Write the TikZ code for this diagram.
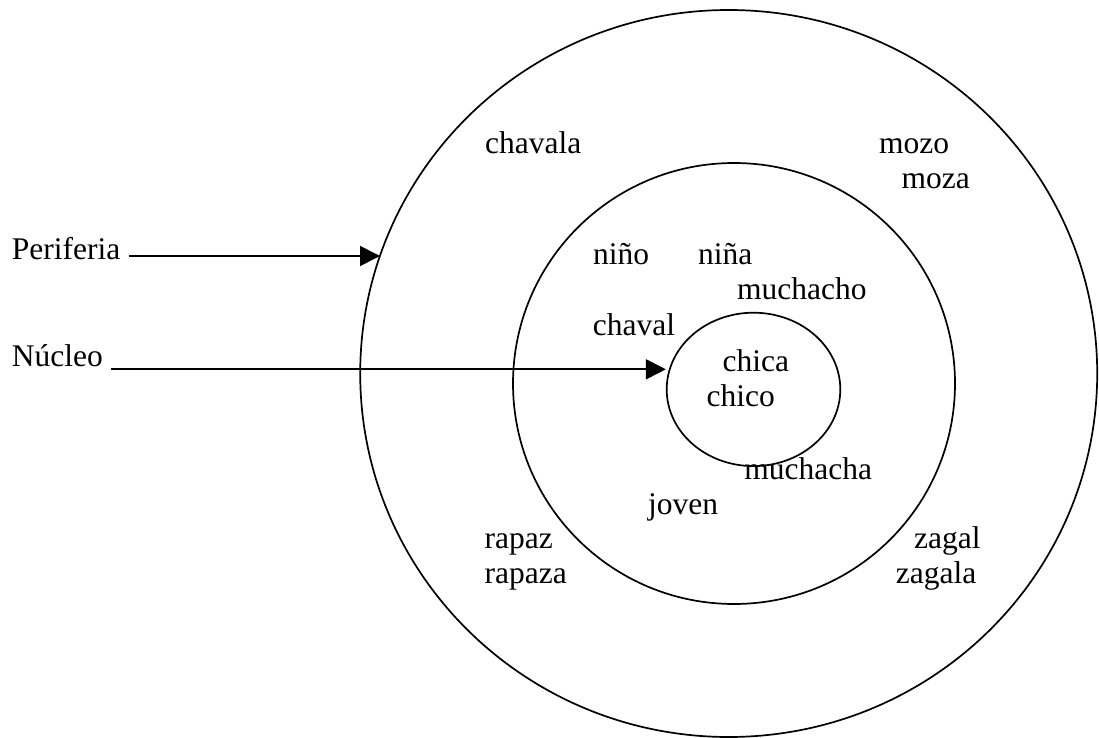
\documentclass[tikz,border=0pt]{standalone}
\usepackage{fontspec}
\setmainfont{Liberation Serif}
\usetikzlibrary{shapes.geometric,arrows.meta}
\begin{document}
\begin{tikzpicture}[x=1pt,y=-1pt,
  ring/.style={draw,ellipse,inner sep=0pt,line width=1.7pt},
  word/.style={anchor=base west,inner sep=0pt,font=\fontsize{31.5}{36}\selectfont},
  arr/.style={line width=1.7pt,-{Triangle[length=20pt,width=20pt]}}]
\useasboundingbox (0,0) rectangle (1099,738);
% circles
\node[ring,minimum width=737pt,minimum height=727pt] (outer) at (728.7,373.5) {};
\node[ring,minimum width=442pt,minimum height=441pt] (middle) at (734,383.5) {};
\node[ring,minimum width=173.6pt,minimum height=153.4pt] (inner) at (753.5,389.4) {};
% words
\node[word] (chavala) at (485,153.5) {chavala};
\node[word] (mozo) at (879,153.5) {mozo};
\node[word] (moza) at (901.5,188.5) {moza};
\node[word] (nino) at (593,264.5) {niño};
\node[word] (nina) at (698,264.5) {niña};
\node[word] (muchacho) at (737,299.8) {muchacho};
\node[word] (chaval) at (592.7,335.5) {chaval};
\node[word] (chica) at (722.4,371.8) {chica};
\node[word] (chico) at (706.4,406) {chico};
\node[word] (muchacha) at (744.2,479) {muchacha};
\node[word] (joven) at (647.8,514.4) {joven};
\node[word] (rapaz) at (484.5,548.2) {rapaz};
\node[word] (rapaza) at (484.5,583.5) {rapaza};
\node[word] (zagal) at (914,548.2) {zagal};
\node[word] (zagala) at (895.7,583.5) {zagala};
% labels
\node[word] (lperi) at (11.7,259.3) {Periferia};
\node[word] (lnuc) at (11.7,366) {Núcleo};
% arrows
\coordinate (ps) at ([xshift=8pt,yshift=3.3pt]lperi.base east);
\coordinate (ns) at ([xshift=8pt,yshift=-3.3pt]lnuc.base east);
\draw[arr] (ps) -- (ps -| outer.161);
\draw[arr] (ns) -- (ns -| inner.west);
\end{tikzpicture}
\end{document}
